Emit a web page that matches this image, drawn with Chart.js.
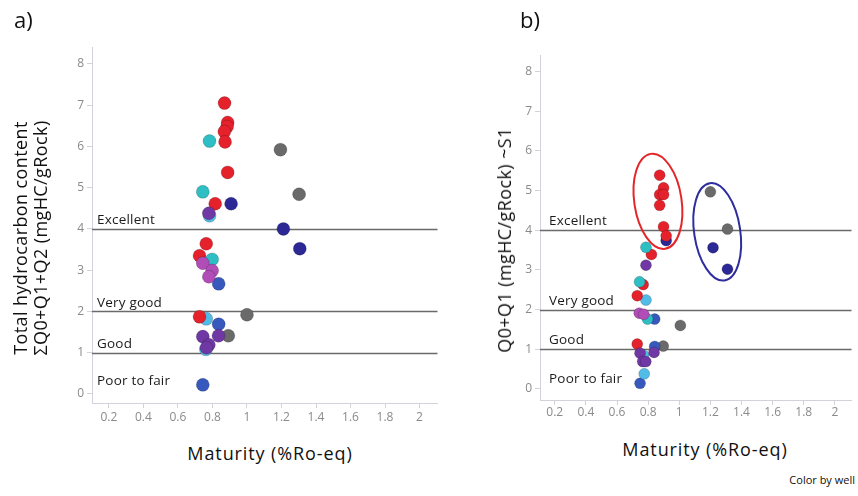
<!DOCTYPE html>
<html>
<head>
<meta charset="utf-8">
<script src="https://cdn.jsdelivr.net/npm/chart.js"></script>
<style>
  html, body { margin: 0; padding: 0; background: #fff; }
  body { width: 858px; height: 496px; position: relative; overflow: hidden; font-family: "Open Sans", sans-serif; color: #111; }
  .box { position: absolute; top: 0; }
  .lbl { position: absolute; white-space: nowrap; line-height: 1; }
  .ctr { transform: translate(-50%, -50%); }
  .rot { transform: translate(-50%, -50%) rotate(-90deg); text-align: center; }
</style>
</head>
<body>
  <div class="box" style="left:0"><canvas id="chartA" width="445" height="430"></canvas></div>
  <div class="box" style="left:448px"><canvas id="chartB" width="410" height="430"></canvas></div>

  <div class="lbl" style="left:14px;top:8px;font-size:22px">a)</div>
  <div class="lbl" style="left:520px;top:8px;font-size:22px">b)</div>
  <div class="lbl rot" style="left:30px;top:238px;font-size:18px;line-height:20px;letter-spacing:.4px">Total hydrocarbon content<br>ΣQ0+Q1+Q2 (mgHC/gRock)</div>
  <div class="lbl rot" style="left:504px;top:240px;font-size:18px;letter-spacing:.4px">Q0+Q1 (mgHC/gRock) ~S1</div>
  <div class="lbl ctr" style="left:270px;top:453px;font-size:18px;letter-spacing:.9px">Maturity (%Ro-eq)</div>
  <div class="lbl ctr" style="left:705px;top:449px;font-size:18px;letter-spacing:.9px">Maturity (%Ro-eq)</div>
  <div class="lbl" style="right:3px;top:474px;font-size:11px">Color by well</div>

<script>
// ===== eixos e classes
const xTicks = [0.2, 0.4, 0.6, 0.8, 1, 1.2, 1.4, 1.6, 1.8, 2];
const yTicks = [0, 1, 2, 3, 4, 5, 6, 7, 8];
const levelLines = [4, 2, 1];
const levelAt    = [4, 2, 1, 0];
const levelNames = ['Excellent', 'Very good', 'Good', 'Poor to fair'];

// ===== poços (uma cor por poço)
const wells = ['Well 1', 'Well 2', 'Well 3', 'Well 4', 'Well 5', 'Well 6', 'Well 7', 'Well 8'];
const wellColors = ['#7038a4', '#b04db6', '#2dbfc4', '#e5212c', '#52bce8', '#3759be', '#2c2996', '#6a6a6a'];

// ===== a) total Q0+Q1+Q2 vs maturidade  [Ro, mgHC/g]
const purpleA  = [[0.779, 4.38], [0.744, 1.39], [0.835, 1.41], [0.779, 1.19], [0.765, 1.12]];
const magentaA = [[0.744, 3.17], [0.798, 2.99], [0.779, 2.84]];
const cyanA    = [[0.783, 6.13], [0.744, 4.90], [0.798, 3.26]];
const redA     = [[0.870, 7.05], [0.888, 6.58], [0.885, 6.48], [0.869, 6.36], [0.873, 6.11],
                  [0.888, 5.37], [0.816, 4.61], [0.764, 3.64], [0.725, 3.35], [0.725, 1.87]];
const skyA     = [[0.783, 4.32], [0.764, 1.82], [0.762, 1.08]];
const blueA    = [[0.836, 2.67], [0.836, 1.69], [0.744, 0.22]];
const navyA    = [[0.908, 4.61], [1.211, 4.00], [1.306, 3.52]];
const grayA    = [[1.194, 5.92], [1.302, 4.84], [1.000, 1.92], [0.892, 1.41]];

// ===== b) Q0+Q1 (~S1) vs maturidade
const purpleB  = [[0.786, 3.12], [0.838, 0.92], [0.748, 0.90], [0.765, 0.69], [0.785, 0.69]];
const magentaB = [[0.743, 1.91], [0.772, 1.88]];
const cyanB    = [[0.786, 3.57], [0.745, 2.70], [0.796, 1.76]];
const redB     = [[0.874, 5.39], [0.899, 5.07], [0.874, 4.90], [0.899, 4.90], [0.874, 4.63],
                  [0.899, 4.09], [0.916, 3.86], [0.821, 3.39], [0.768, 2.63], [0.730, 2.35], [0.730, 1.13]];
const skyB     = [[0.786, 2.24], [0.770, 0.85], [0.775, 0.38]];
const blueB    = [[0.842, 1.76], [0.842, 1.07], [0.748, 0.14]];
const navyB    = [[0.916, 3.74], [1.217, 3.56], [1.310, 3.02]];
const grayB    = [[1.200, 4.97], [1.310, 4.03], [1.007, 1.60], [0.897, 1.08]];

// elipses de destaque no painel b: centro, raios (unid. de dado)
const ringCenters = [[0.863, 4.73], [1.244, 3.96]];
const ringRadii   = [[0.152, 1.21], [0.148, 1.24]];
const ringColors  = ['#e3262a', '#2f2d9e'];

const TICK = '#8a8a8a';
const AXIS = '#d2d2da';
const FONT = '"Open Sans", sans-serif';

// linhas de classe + rótulos (atrás dos pontos)
const levelPlugin = {
  id: 'levels',
  beforeDatasetsDraw(chart, args, opts) {
    const { ctx, chartArea: a, scales: { y } } = chart;
    ctx.save();
    ctx.strokeStyle = '#6a6a6a';
    ctx.lineWidth = 1.4;
    levelLines.forEach(v => {
      const py = Math.round(y.getPixelForValue(v)) + 0.5;
      ctx.beginPath(); ctx.moveTo(a.left, py); ctx.lineTo(a.right, py); ctx.stroke();
    });
    ctx.font = `13.5px ${FONT}`;
    ctx.letterSpacing = '0.2px';
    ctx.fillStyle = '#1b1b1b';
    ctx.textBaseline = 'alphabetic';
    levelNames.forEach((t, i) => {
      ctx.fillText(t, a.left + opts.dx, y.getPixelForValue(levelAt[i]) - opts.lift[i]);
    });
    ctx.restore();
  }
};

// elipses por cima dos pontos
const ringPlugin = {
  id: 'rings',
  afterDatasetsDraw(chart, args, opts) {
    if (!opts.show) return;
    const { ctx, scales: { x, y } } = chart;
    ctx.save();
    ctx.lineWidth = 2;
    ringCenters.forEach(([cx, cy], i) => {
      const px = x.getPixelForValue(cx), py = y.getPixelForValue(cy);
      const rx = Math.abs(x.getPixelForValue(cx + ringRadii[i][0]) - px);
      const ry = Math.abs(y.getPixelForValue(cy + ringRadii[i][1]) - py);
      ctx.strokeStyle = ringColors[i];
      ctx.beginPath();
      ctx.ellipse(px, py, rx, ry, -0.15, 0, Math.PI * 2);
      ctx.stroke();
    });
    ctx.restore();
  }
};

function makeChart(id, sets, cfg) {
  return new Chart(document.getElementById(id), {
    type: 'scatter',
    data: {
      datasets: sets.map((d, i) => ({
        label: wells[i],
        data: d.map(([x, y]) => ({ x, y })),
        backgroundColor: wellColors[i],
        borderColor: 'rgba(0,0,0,0.18)',
        borderWidth: 1,
        pointRadius: cfg.r,
        pointHoverRadius: cfg.r
      }))
    },
    options: {
      responsive: false,
      animation: false,
      layout: { padding: cfg.pad },
      plugins: {
        legend: { display: false },
        tooltip: { enabled: false },
        levels: { dx: cfg.dx, lift: cfg.lift },
        rings: { show: cfg.rings }
      },
      scales: {
        x: {
          type: 'linear', min: cfg.x[0], max: cfg.x[1],
          afterBuildTicks: s => { s.ticks = xTicks.map(v => ({ value: v })); },
          afterFit: s => { s.height = cfg.xh; },
          grid: { drawOnChartArea: false, tickLength: 5, color: AXIS },
          border: { color: AXIS },
          ticks: { color: TICK, font: { family: FONT, size: 12 }, padding: cfg.xpad, maxRotation: 0, autoSkip: false,
                   callback: v => String(+v.toFixed(1)) }
        },
        y: {
          type: 'linear', min: cfg.y[0], max: cfg.y[1],
          afterBuildTicks: s => { s.ticks = yTicks.map(v => ({ value: v })); },
          afterFit: s => { s.width = cfg.yw; },
          grid: { drawOnChartArea: false, tickLength: 5, color: AXIS },
          border: { color: AXIS },
          ticks: { color: TICK, font: { family: FONT, size: 12 }, padding: 3, autoSkip: false,
                   callback: v => String(v) }
        }
      }
    },
    plugins: [levelPlugin, ringPlugin]
  });
}

makeChart('chartA',
  [purpleA, magentaA, cyanA, redA, skyA, blueA, navyA, grayA],
  { r: 6.5, pad: { top: 47, right: 6, left: 0, bottom: 0 }, xh: 27, yw: 92, xpad: 2,
    x: [0.102, 2.104], y: [-0.22, 8.41], dx: 5, lift: [5, 4, 5, 9], rings: false });

makeChart('chartB',
  [purpleB, magentaB, cyanB, redB, skyB, blueB, navyB, grayB],
  { r: 5.5, pad: { top: 55, right: 1, left: 0, bottom: 0 }, xh: 30, yw: 92, xpad: 0,
    x: [0.105, 2.107], y: [-0.28, 8.42], dx: 9, lift: [5, 5, 5, 6], rings: true });
</script>
</body>
</html>
